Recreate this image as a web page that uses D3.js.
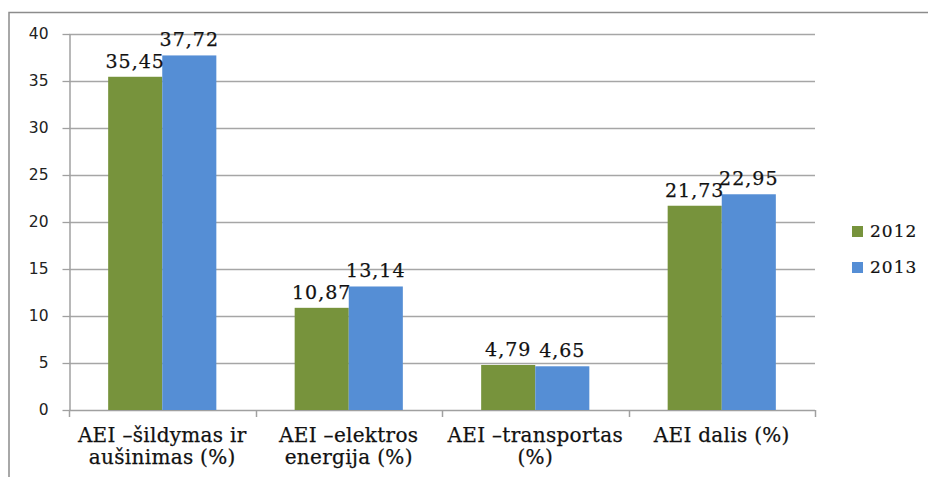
<!DOCTYPE html>
<html>
<head>
<meta charset="utf-8">
<script src="https://cdn.jsdelivr.net/npm/d3@7"></script>
<style>
  html, body { margin: 0; padding: 0; background: #fff; }
  svg { display: block; }
</style>
</head>
<body>
<svg id="chart" width="928" height="477"></svg>
<script>
// Atsinaujinančių energijos išteklių (AEI) dalis, %
const categories = [
  ["AEI \u2013šildymas ir", "aušinimas (%)"],
  ["AEI \u2013elektros", "energija (%)"],
  ["AEI \u2013transportas", "(%)"],
  ["AEI dalis (%)"]
];
const years = ["2012", "2013"];
const values2012 = [35.45, 10.87, 4.79, 21.73];
const values2013 = [37.72, 13.14, 4.65, 22.95];
const yTicks = [0, 5, 10, 15, 20, 25, 30, 35, 40];
const colors = ["#77933c", "#558ed5"];

const serif = "'DejaVu Serif', 'Liberation Serif', Georgia, serif";
const svg = d3.select("#chart");
const plot = { left: 69, right: 815, top: 34, bottom: 410 };

// outer chart frame (runs off the right and bottom edges)
svg.append("path")
  .attr("d", "M9,500 L9,12.5 L940,12.5")
  .attr("fill", "none")
  .attr("stroke", "#8c8c8c")
  .attr("stroke-width", 1.5);

const x0 = d3.scaleBand()
  .domain(d3.range(categories.length))
  .range([plot.left, plot.right])
  .paddingInner(0.42)
  .paddingOuter(0.21);
const x1 = d3.scaleBand()
  .domain(years)
  .range([0, x0.bandwidth()]);
const y = d3.scaleLinear().domain([0, 40]).range([plot.bottom, plot.top]);

// horizontal gridlines
svg.append("g")
  .selectAll("line")
  .data(yTicks.filter(d => d > 0))
  .join("line")
  .attr("x1", plot.left).attr("x2", plot.right)
  .attr("y1", d => Math.round(y(d)) + 0.5).attr("y2", d => Math.round(y(d)) + 0.5)
  .attr("stroke", "#a6a6a6").attr("stroke-width", 1.3);

// y axis
const yAxis = svg.append("g")
  .attr("transform", `translate(${plot.left + 0.5},0)`)
  .call(d3.axisLeft(y).tickValues(yTicks).tickSize(7).tickSizeOuter(0).tickPadding(14));
yAxis.select(".domain").attr("stroke", "#a0a0a0").attr("stroke-width", 1.5);
yAxis.selectAll(".tick line").attr("stroke", "#a0a0a0").attr("stroke-width", 1.3);
yAxis.selectAll(".tick text")
  .attr("font-family", "'DejaVu Sans', Verdana, sans-serif")
  .attr("font-size", 15.5).attr("fill", "#222");

// x axis with category boundary ticks
const xStep = x0.step();
svg.append("line")
  .attr("x1", plot.left).attr("x2", plot.right)
  .attr("y1", plot.bottom + 0.5).attr("y2", plot.bottom + 0.5)
  .attr("stroke", "#a0a0a0").attr("stroke-width", 1.5);
svg.append("g")
  .selectAll("line")
  .data(d3.range(categories.length + 1))
  .join("line")
  .attr("x1", i => Math.round(plot.left + i * xStep) + 0.5)
  .attr("x2", i => Math.round(plot.left + i * xStep) + 0.5)
  .attr("y1", plot.bottom).attr("y2", plot.bottom + 7)
  .attr("stroke", "#a0a0a0").attr("stroke-width", 1.5);

// bars
const series = [values2012, values2013];
const groups = svg.append("g")
  .selectAll("g")
  .data(categories.map((c, i) => i))
  .join("g")
  .attr("transform", i => `translate(${x0(i)},0)`);

groups.selectAll("rect")
  .data(i => years.map((yr, k) => ({ yr, k, v: series[k][i] })))
  .join("rect")
  .attr("x", d => x1(d.yr))
  .attr("width", x1.bandwidth())
  .attr("y", d => y(d.v))
  .attr("height", d => y(0) - y(d.v))
  .attr("fill", d => colors[d.k]);

// value labels
groups.selectAll("text")
  .data(i => years.map((yr, k) => ({ yr, k, v: series[k][i] })))
  .join("text")
  .attr("x", d => x1(d.yr) + x1.bandwidth() / 2)
  .attr("y", d => y(d.v) - 9)
  .attr("text-anchor", "middle")
  .attr("font-family", serif)
  .attr("font-size", 19)
  .attr("letter-spacing", 1)
  .attr("fill", "#111")
  .attr("stroke", "#111").attr("stroke-width", 0.25)
  .text(d => d.v.toFixed(2).replace(".", ","));

// category labels
const catText = svg.append("g")
  .selectAll("text")
  .data(categories)
  .join("text")
  .attr("x", (c, i) => x0(i) + x0.bandwidth() / 2)
  .attr("y", 442)
  .attr("text-anchor", "middle")
  .attr("font-family", serif)
  .attr("font-size", 20)
  .attr("letter-spacing", 0.3)
  .attr("fill", "#111")
  .attr("stroke", "#111").attr("stroke-width", 0.25);
catText.selectAll("tspan")
  .data(c => c)
  .join("tspan")
  .attr("x", function () { return this.parentNode.getAttribute("x"); })
  .attr("dy", (d, j) => j === 0 ? 0 : 22)
  .text(d => d);

// legend
const legend = svg.append("g")
  .selectAll("g")
  .data(years)
  .join("g")
  .attr("transform", (d, k) => `translate(852,${226 + k * 36})`);
legend.append("rect")
  .attr("width", 11).attr("height", 11)
  .attr("fill", (d, k) => colors[k]);
legend.append("text")
  .attr("x", 18).attr("y", 11)
  .attr("font-family", serif)
  .attr("font-size", 17)
  .attr("letter-spacing", 1)
  .attr("fill", "#111")
  .attr("stroke", "#111").attr("stroke-width", 0.2)
  .text(d => d);
</script>
</body>
</html>
